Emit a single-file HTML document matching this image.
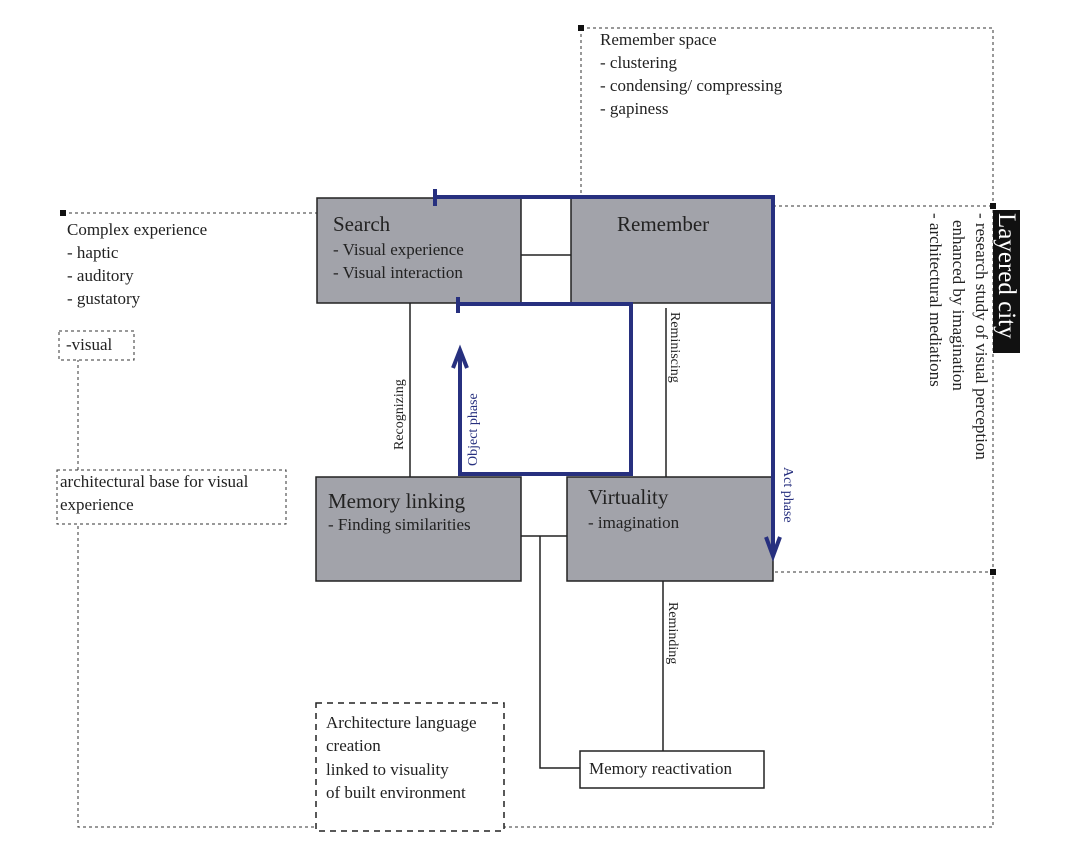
<!DOCTYPE html>
<html><head><meta charset="utf-8"><style>
html,body{margin:0;padding:0;background:#fff;}
svg{display:block;font-family:"Liberation Serif",serif;}
</style></head><body>
<svg width="1080" height="858" viewBox="0 0 1080 858" xmlns="http://www.w3.org/2000/svg">
<g fill="none" stroke="#333" stroke-width="1" stroke-dasharray="3,3">
<polyline points="581,28 993,28 993,827 78,827 78,524"/>
<line x1="78" y1="470" x2="78" y2="360"/>
<line x1="581" y1="28" x2="581" y2="210"/>
<line x1="63" y1="213" x2="317" y2="213"/>
<line x1="755" y1="206" x2="993" y2="206"/>
<line x1="775" y1="572" x2="993" y2="572"/>
<rect x="59" y="331" width="75" height="29"/>
<rect x="57" y="470" width="229" height="54"/>
</g>
<rect x="316" y="703" width="188" height="128" fill="#fff" stroke="#222" stroke-width="1.5" stroke-dasharray="6,5"/>
<g fill="#111">
<rect x="578" y="25" width="6" height="6"/><rect x="60" y="210" width="6" height="6"/>
<rect x="990" y="203" width="6" height="6"/><rect x="990" y="569" width="6" height="6"/>
</g>
<g fill="#a2a3aa" stroke="#222" stroke-width="1.5">
<rect x="317" y="198" width="204" height="105"/>
<rect x="571" y="198" width="202" height="105"/>
<rect x="316" y="477" width="205" height="104"/>
<rect x="567" y="477" width="206" height="104"/>
</g>
<g stroke="#222" stroke-width="1.5" fill="none">
<line x1="521" y1="255" x2="571" y2="255"/>
<line x1="521" y1="536" x2="567" y2="536"/>
<polyline points="540,536 540,768 580,768"/>
<line x1="663" y1="581" x2="663" y2="751"/>
<line x1="410" y1="303" x2="410" y2="477"/>
<line x1="666" y1="308" x2="666" y2="477"/>
<rect x="580" y="751" width="184" height="37" fill="#fff"/>
</g>
<g stroke="#27307f" stroke-width="4" fill="none">
<polyline points="435,197 773,197 773,550"/>
<line x1="435" y1="189" x2="435" y2="206"/>
<polyline points="458,304 631,304 631,474 460,474 460,355"/>
<line x1="458" y1="297" x2="458" y2="313"/>
<polyline points="766,537 773,556 780,537"/>
<polyline points="453,368 460,350 467,368"/>
</g>
<g font-size="17" fill="#222">
<text x="333" y="231" font-size="21">Search</text>
<text x="333" y="255">- Visual experience</text>
<text x="333" y="278">- Visual interaction</text>
<text x="617" y="231" font-size="21">Remember</text>
<text x="328" y="508" font-size="21">Memory linking</text>
<text x="328" y="530">- Finding similarities</text>
<text x="588" y="504" font-size="21">Virtuality</text>
<text x="588" y="528">- imagination</text>
<text x="600" y="45">Remember space</text>
<text x="600" y="68">- clustering</text>
<text x="600" y="91">- condensing/ compressing</text>
<text x="600" y="114">- gapiness</text>
<text x="67" y="235">Complex experience</text>
<text x="67" y="258">- haptic</text>
<text x="67" y="281">- auditory</text>
<text x="67" y="304">- gustatory</text>
<text x="66" y="350">-visual</text>
<text x="60" y="487">architectural base for visual</text>
<text x="60" y="510">experience</text>
<text x="326" y="728">Architecture language</text>
<text x="326" y="751">creation</text>
<text x="326" y="775">linked to visuality</text>
<text x="326" y="798">of built environment</text>
<text x="589" y="774">Memory reactivation</text>
</g>
<g font-size="14">
<text transform="translate(403,450) rotate(-90)" fill="#222">Recognizing</text>
<text transform="translate(477,466) rotate(-90)" fill="#27307f">Object phase</text>
<text transform="translate(671,312) rotate(90)" fill="#222">Reminiscing</text>
<text transform="translate(669,602) rotate(90)" fill="#222">Reminding</text>
<text transform="translate(784,467) rotate(90)" fill="#27307f">Act phase</text>
</g>
<rect x="993" y="210" width="27" height="143" fill="#111"/>
<text transform="translate(999,213) rotate(90)" font-size="25" fill="#fff">Layered city</text>
<g font-size="17" fill="#222">
<text transform="translate(976,213) rotate(90)">- research study of visual perception</text>
<text transform="translate(953,220) rotate(90)">enhanced by imagination</text>
<text transform="translate(930,213) rotate(90)">- architectural mediations</text>
</g>
</svg>
</body></html>
